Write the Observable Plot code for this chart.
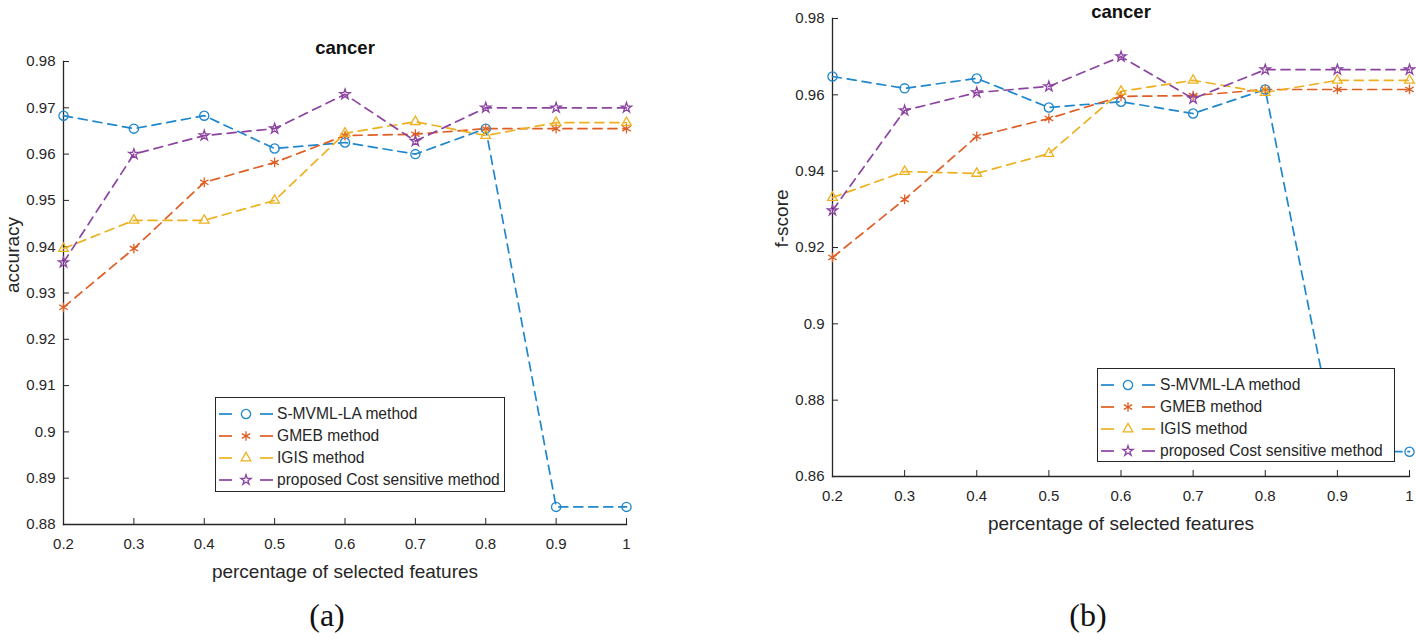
<!DOCTYPE html>
<html><head><meta charset="utf-8">
<script src="https://cdn.jsdelivr.net/npm/d3@7"></script>
<script src="https://cdn.jsdelivr.net/npm/@observablehq/plot@0.6"></script>
<style>
html,body{margin:0;padding:0;background:#fff;}
#root{position:relative;width:1416px;height:641px;overflow:hidden;font-family:"Liberation Sans",Arial,sans-serif;}
.panel{position:absolute;top:0;}
.legend{position:absolute;background:#fff;border:1px solid #262626;box-sizing:border-box;}
.row{position:absolute;left:0;height:22px;width:100%;}
.row svg{position:absolute;left:0;top:0;}
.row span{position:absolute;top:0;line-height:22px;font-size:15.6px;color:#262626;white-space:nowrap;}
.cap{position:absolute;font-family:"Liberation Serif","Times New Roman",serif;font-size:32px;line-height:32px;color:#111;transform:translateX(-50%);}
</style></head><body><div id="root"></div>
<script>
// ---- data ----
const xs = [0.2, 0.3, 0.4, 0.5, 0.6, 0.7, 0.8, 0.9, 1.0];
const series = ["S-MVML-LA method", "GMEB method", "IGIS method", "proposed Cost sensitive method"];
const colors = ["#1f87cc", "#df5e25", "#edb120", "#8c44a0"];
const symbols = ["circle", "asterisk", "triangle", "star"];
const symbolR = [4.6, 4.6, 3.6, 3.2];

// (a) accuracy
const accSMVML    = [0.9683, 0.9655, 0.9683, 0.9612, 0.9625, 0.9600, 0.9655, 0.8838, 0.8838];
const accGMEB     = [0.9269, 0.9396, 0.9539, 0.9582, 0.9640, 0.9643, 0.9655, 0.9655, 0.9655];
const accIGIS     = [0.9396, 0.9457, 0.9457, 0.9500, 0.9645, 0.9670, 0.9640, 0.9668, 0.9668];
const accProposed = [0.9366, 0.9600, 0.9640, 0.9655, 0.9729, 0.9628, 0.9700, 0.9700, 0.9700];

// (b) f-score
const fSMVML    = [0.9648, 0.9617, 0.9643, 0.9567, 0.9582, 0.9551, 0.9614, 0.8665, 0.8665];
const fGMEB     = [0.9174, 0.9326, 0.9491, 0.9538, 0.9596, 0.9598, 0.9614, 0.9614, 0.9614];
const fIGIS     = [0.9331, 0.9399, 0.9394, 0.9446, 0.9609, 0.9638, 0.9606, 0.9638, 0.9638];
const fProposed = [0.9297, 0.9559, 0.9606, 0.9622, 0.9700, 0.9590, 0.9666, 0.9666, 0.9666];

const yTicksA = [0.88, 0.89, 0.9, 0.91, 0.92, 0.93, 0.94, 0.95, 0.96, 0.97, 0.98];
const yTicksB = [0.86, 0.88, 0.9, 0.92, 0.94, 0.96, 0.98];
const titleText = "cancer";
const xLabel = "percentage of selected features";

// ---- drawing ----
const axisColor = "#262626";
const fmtY = d => String(+d.toFixed(2));
const fmtX = d => String(+d.toFixed(1));

function panel({values, yDomain, yTicks, yLabel, width, mL, mR, mT, mB, titleDy}) {
  const rows = [];
  series.forEach((s, i) => values[i].forEach((v, j) => rows.push({series: s, x: xs[j], y: v})));
  const dots = series.map((s, i) => Plot.dot(rows.filter(d => d.series === s),
    {x: "x", y: "y", stroke: "series", symbol: "series", r: symbolR[i], strokeWidth: 1.3, fill: "none"}));
  return Plot.plot({
    width, height: 641, marginLeft: mL, marginRight: mR, marginTop: mT, marginBottom: mB,
    x: {domain: [0.2, 1]},
    y: {domain: yDomain},
    color: {domain: series, range: colors},
    symbol: {domain: series, range: symbols},
    style: {fontFamily: '"Liberation Sans", Arial, sans-serif', fontSize: "15px", color: axisColor, background: "transparent", overflow: "visible"},
    marks: [
      Plot.frame({anchor: "left", stroke: axisColor, strokeWidth: 1.3}),
      Plot.frame({anchor: "bottom", stroke: axisColor, strokeWidth: 1.3}),
      Plot.axisX(xs, {tickSize: 6, dy: -6, text: null, label: null}),
      Plot.axisX(xs, {tickSize: 0, tickPadding: 14, tickFormat: fmtX, label: null, fontSize: 15}),
      Plot.axisY(yTicks, {tickSize: 6, dx: 6, text: null, label: null}),
      Plot.axisY(yTicks, {tickSize: 0, tickPadding: 8, tickFormat: fmtY, label: null, fontSize: 15}),
      Plot.line(rows, {x: "x", y: "y", z: "series", stroke: "series", strokeWidth: 1.7, strokeDasharray: "9,6"}),
      ...dots,
      Plot.text([titleText], {frameAnchor: "top", dy: titleDy, lineAnchor: "bottom", fontWeight: "bold", fontSize: 18.5, fill: "#111"}),
      Plot.text([yLabel], {frameAnchor: "left", rotate: -90, dx: -45, lineAnchor: "bottom", fontSize: 19, fill: axisColor}),
      Plot.text([xLabel], {frameAnchor: "bottom", dy: 40, lineAnchor: "top", fontSize: 19, fill: axisColor})
    ]
  });
}

const root = document.getElementById("root");

const pa = panel({values: [accSMVML, accGMEB, accIGIS, accProposed], yDomain: [0.88, 0.98], yTicks: yTicksA,
  yLabel: "accuracy", width: 680, mL: 63, mR: 54, mT: 61, mB: 117, titleDy: -8});
pa.classList.add("panel"); pa.style.left = "0px";
root.appendChild(pa);

const pb = panel({values: [fSMVML, fGMEB, fIGIS, fProposed], yDomain: [0.86, 0.98], yTicks: yTicksB,
  yLabel: "f-score", width: 656, mL: 72, mR: 7, mT: 18, mB: 165, titleDy: -1});
pb.classList.add("panel"); pb.style.left = "760px";
root.appendChild(pb);

const symMap = {circle: d3.symbolCircle, asterisk: d3.symbolAsterisk, triangle: d3.symbolTriangle, star: d3.symbolStar};
function legend(left, top, width, height, textLeft) {
  const box = document.createElement("div");
  box.className = "legend";
  Object.assign(box.style, {left: left + "px", top: top + "px", width: width + "px", height: height + "px"});
  series.forEach((s, i) => {
    const row = document.createElement("div");
    row.className = "row";
    row.style.top = (5 + i * 22) + "px";
    const svg = d3.create("svg").attr("width", 62).attr("height", 22);
    svg.append("line").attr("x1", 3).attr("x2", 16).attr("y1", 11).attr("y2", 11).attr("stroke", colors[i]).attr("stroke-width", 1.7);
    svg.append("line").attr("x1", 44).attr("x2", 57).attr("y1", 11).attr("y2", 11).attr("stroke", colors[i]).attr("stroke-width", 1.7);
    svg.append("path").attr("transform", "translate(30,11)")
      .attr("d", d3.symbol().type(symMap[symbols[i]]).size(symbolR[i] * symbolR[i] * Math.PI)())
      .attr("fill", "none").attr("stroke", colors[i]).attr("stroke-width", 1.3);
    row.appendChild(svg.node());
    const sp = document.createElement("span");
    sp.textContent = s;
    sp.style.left = textLeft + "px";
    row.appendChild(sp);
    box.appendChild(row);
  });
  root.appendChild(box);
}
legend(215, 397, 290, 95, 61);
legend(1097, 368, 298, 94, 62);

function cap(text, cx, baseline) {
  const d = document.createElement("div");
  d.className = "cap";
  d.textContent = text;
  d.style.left = cx + "px";
  d.style.top = (baseline - 28.5) + "px";
  root.appendChild(d);
}
cap("(a)", 327, 627);
cap("(b)", 1088, 627);
</script>
</body></html>
